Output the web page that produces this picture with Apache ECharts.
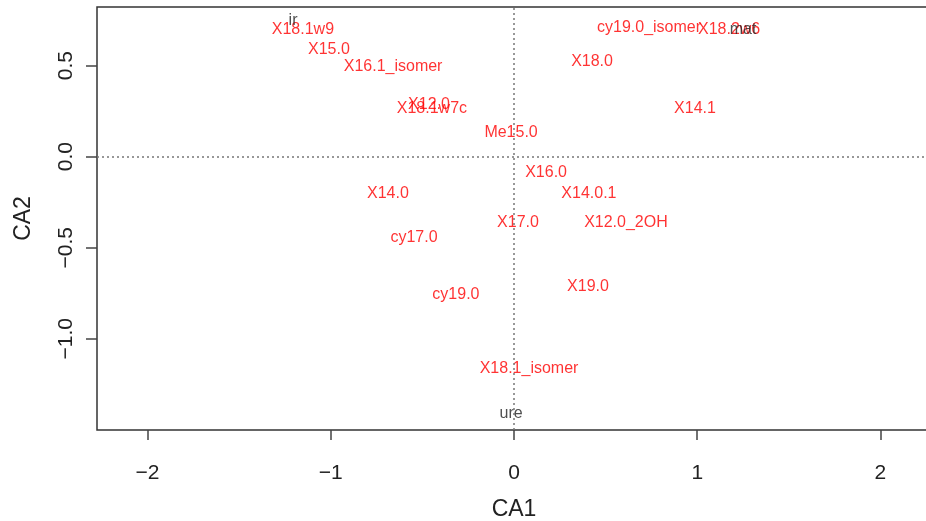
<!DOCTYPE html>
<html>
<head>
<meta charset="utf-8">
<script src="https://cdn.jsdelivr.net/npm/echarts@6/dist/echarts.min.js"></script>
<style>
  html, body { margin: 0; padding: 0; background: #fff; }
  #main { width: 926px; height: 521px; }
</style>
</head>
<body>
<div id="main"></div>
<script>
// row points (red labels)
var rowNames = ['X18.1w9', 'X15.0', 'X16.1_isomer', 'X12.0', 'X18.1w7c', 'Me15.0', 'X16.0', 'X14.0',
  'X14.0.1', 'X17.0', 'X12.0_2OH', 'cy17.0', 'X19.0', 'cy19.0', 'X18.1_isomer', 'cy19.0_isomer',
  'X18.2w6', 'X18.0', 'X14.1'];
var rowX = [-1.152, -1.010, -0.660, -0.464, -0.448, -0.016, 0.175, -0.688,
  0.409, 0.022, 0.611, -0.546, 0.404, -0.317, 0.082, 0.737,
  1.174, 0.426, 0.988];
var rowY = [0.696, 0.586, 0.493, 0.284, 0.262, 0.130, -0.090, -0.205,
  -0.205, -0.364, -0.364, -0.447, -0.716, -0.760, -1.166, 0.707,
  0.696, 0.520, 0.267];

// column points (black labels)
var colNames = ['ir', 'mat', 'ure'];
var colX = [-1.206, 1.250, -0.016];
var colY = [0.746, 0.696, -1.414];

var xTicks = [-2, -1, 0, 1, 2];
var yTicks = [-1.0, -0.5, 0.0, 0.5];

function pts(names, xs, ys) {
  return names.map(function (n, i) { return { name: n, value: [xs[i], ys[i]] }; });
}
function minus(s) { return String(s).replace('-', '\u2212'); }

var chart = echarts.init(document.getElementById('main'));
var option = {
  animation: false,
  grid: {
    left: 97, top: 7, right: -5, bottom: 91,
    outerBoundsMode: 'none',
    show: true, borderColor: '#333', borderWidth: 1.5, backgroundColor: '#fff'
  },
  xAxis: {
    type: 'value', min: -2.276, max: 2.276,
    name: 'CA1', nameLocation: 'middle', nameGap: 68,
    nameTextStyle: { fontFamily: 'Liberation Sans', fontSize: 23, color: '#222' },
    axisLine: { show: false, onZero: false },
    axisTick: { show: true, inside: false, length: 10, customValues: xTicks, lineStyle: { color: '#444', width: 1.5 } },
    axisLabel: {
      customValues: xTicks, margin: 33, fontFamily: 'Liberation Sans', fontSize: 21, color: '#222',
      formatter: function (v) { return minus(v); }
    },
    splitLine: { show: false }
  },
  yAxis: {
    type: 'value', min: -1.5016, max: 0.8225,
    name: 'CA2', nameLocation: 'middle', nameGap: 62, nameRotate: 90,
    nameTextStyle: { fontFamily: 'Liberation Sans', fontSize: 23, color: '#222' },
    axisLine: { show: false, onZero: false },
    axisTick: { show: true, inside: false, length: 11, customValues: yTicks, lineStyle: { color: '#444', width: 1.5 } },
    axisLabel: {
      customValues: yTicks, rotate: 90, margin: 20, fontFamily: 'Liberation Sans', fontSize: 21, color: '#222',
      formatter: function (v) { return minus(v.toFixed(1)); }
    },
    splitLine: { show: false }
  },
  series: [
    {
      type: 'scatter',
      symbolSize: 0.1,
      itemStyle: { color: 'rgba(0,0,0,0)' },
      label: {
        show: true, position: 'inside', formatter: '{b}',
        fontFamily: 'Liberation Sans', fontSize: 16, color: '#ff0000'
      },
      markLine: {
        silent: true, symbol: 'none', label: { show: false },
        lineStyle: { color: '#777', type: [2, 3], width: 1.5 },
        data: [{ xAxis: 0 }, { yAxis: 0 }]
      },
      data: pts(rowNames, rowX, rowY)
    },
    {
      type: 'scatter',
      symbolSize: 0.1,
      itemStyle: { color: 'rgba(0,0,0,0)' },
      label: {
        show: true, position: 'inside', formatter: '{b}',
        fontFamily: 'Liberation Sans', fontSize: 16, color: '#222'
      },
      data: pts(colNames, colX, colY)
    }
  ]
};
chart.setOption(option);
window.addEventListener('resize', function () { chart.resize(); });
</script>
</body>
</html>
